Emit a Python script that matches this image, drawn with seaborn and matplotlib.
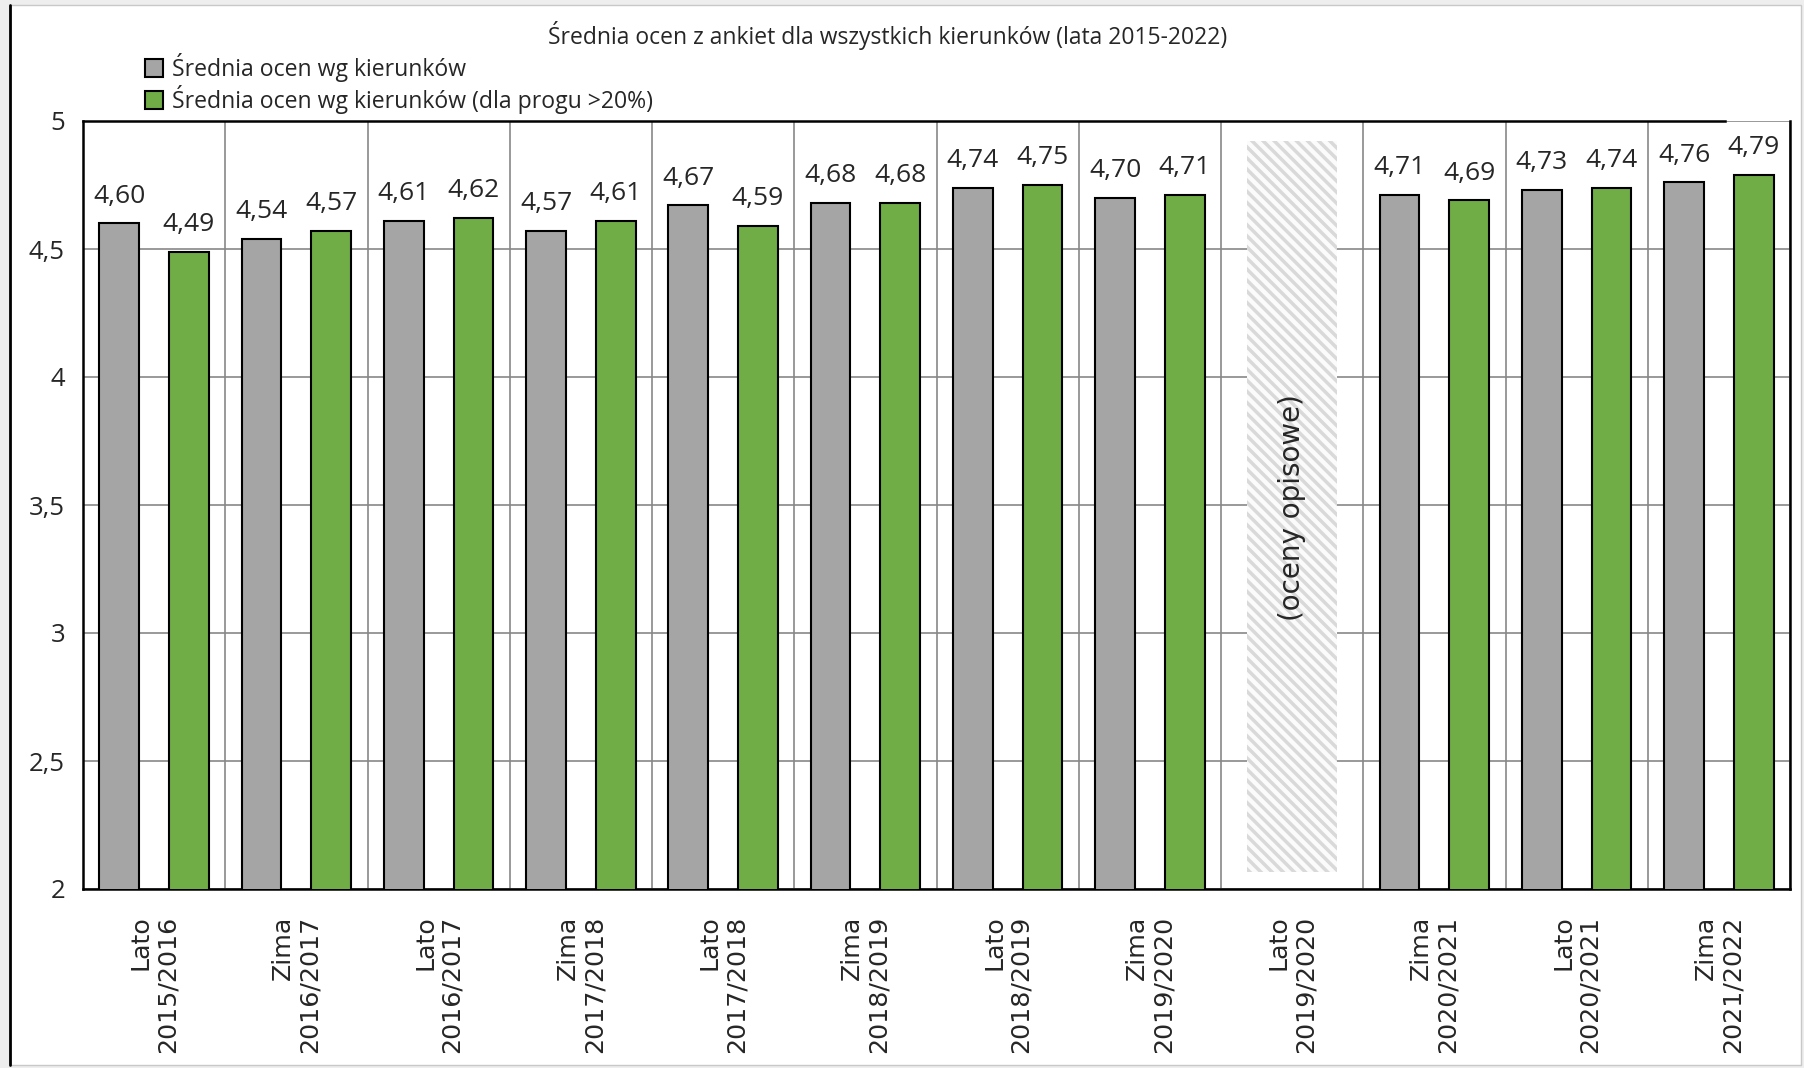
#%%
import numpy as np
import pandas as pd
import matplotlib.pyplot as plt
import seaborn as sns
from matplotlib.patches import Rectangle
from matplotlib.lines import Line2D

#%%
# data
pora = ['Lato', 'Zima', 'Lato', 'Zima', 'Lato', 'Zima', 'Lato', 'Zima', 'Lato', 'Zima', 'Lato', 'Zima']
rok = ['2015/2016', '2016/2017', '2016/2017', '2017/2018', '2017/2018', '2018/2019',
       '2018/2019', '2019/2020', '2019/2020', '2020/2021', '2020/2021', '2021/2022']
srednia = [4.60, 4.54, 4.61, 4.57, 4.67, 4.68, 4.74, 4.70, np.nan, 4.71, 4.73, 4.76]
srednia_prog = [4.49, 4.57, 4.62, 4.61, 4.59, 4.68, 4.75, 4.71, np.nan, 4.69, 4.74, 4.79]
seria = ['Średnia ocen wg kierunków', 'Średnia ocen wg kierunków (dla progu >20%)']
opisowe = 'Lato\n2019/2020'   # semester with descriptive grades only

semestry = [p + '\n' + r for p, r in zip(pora, rok)]

#%%
# long format for seaborn
df = pd.DataFrame({'semestr': semestry * 2,
                   'seria': [seria[0]] * len(semestry) + [seria[1]] * len(semestry),
                   'ocena': srednia + srednia_prog}).dropna()

sns.set_style('white')
plt.rcParams['font.family'] = ['Open Sans', 'DejaVu Sans']
plt.rcParams['hatch.linewidth'] = 2.5

fig = plt.figure(figsize=(18.04, 10.68), dpi=100, facecolor='#eeeeee')
# white card with frame
fig.patches.append(Rectangle((10/1804, 3/1068), 1791/1804, 1060/1068, transform=fig.transFigure,
                             facecolor='white', edgecolor='#c8c8c8', lw=1, zorder=-2))
fig.lines.append(Line2D([10/1804, 10/1804], [3/1068, 1063/1068], transform=fig.transFigure,
                        color='black', lw=2))

ax = fig.add_axes([83/1804, 1-889/1068, (1790-83)/1804, (889-121)/1068])

sns.barplot(data=df, x='semestr', y='ocena', hue='seria', order=semestry, hue_order=seria,
            palette={seria[0]: '#A5A5A5', seria[1]: '#70AD47'}, saturation=1, errorbar=None,
            width=0.98, gap=0.43, edgecolor='black', linewidth=1.5, ax=ax, zorder=3)

#%%
# data labels
for cont in ax.containers:
    for bar in cont:
        h = bar.get_height()
        if np.isfinite(h) and h > 0:
            ax.annotate(f'{h:.2f}'.replace('.', ','), (bar.get_x() + bar.get_width()/2, h),
                        xytext=(0, 15), textcoords='offset points', ha='center', va='baseline',
                        fontsize=19)

# hatched placeholder for descriptive grades
i = semestry.index(opisowe)
ax.add_patch(Rectangle((i - 0.315, 2.067), 0.63, 4.92 - 2.067, facecolor='#fbfbfb',
                       edgecolor='#d9d9d9', hatch='\\\\\\', lw=0, zorder=2))
ax.text(i, 3.49, '(oceny opisowe)', rotation=90, ha='center', va='center',
        fontsize=20, family='DejaVu Sans', zorder=4)

#%%
# axes styling
ax.set_ylim(2, 5)
ax.set_xlim(-0.5, len(semestry) - 0.5)
ax.set_yticks(np.arange(2, 5.01, 0.5))
ax.set_yticklabels([f'{v:g}'.replace('.', ',') for v in np.arange(2, 5.01, 0.5)], fontsize=18.5)
ax.set_xticks(range(len(semestry)))
ax.set_xticklabels(semestry, rotation=90, ha='center', va='top', multialignment='right',
                   fontsize=18.2, family='DejaVu Sans', linespacing=1.15)
ax.set_xticks(np.arange(-0.5, len(semestry)), minor=True)
ax.tick_params(axis='both', which='both', length=0)
ax.tick_params(axis='x', pad=19)
ax.tick_params(axis='y', pad=13)
ax.grid(axis='y', which='major', color='#878787', lw=1.2)
ax.grid(axis='x', which='minor', color='#878787', lw=1.2)
ax.set_axisbelow(True)
for s in ax.spines.values():
    s.set_color('black')
    s.set_linewidth(1.8)
# top border is cut off above the last label, as in the original
ax.spines['top'].set_bounds(-0.5, 11.04)
ax.set_xlabel('')
ax.set_ylabel('')

# legend top left of figure
handles, labels = ax.get_legend_handles_labels()
ax.get_legend().remove()
fig.legend(handles, labels, loc='upper left', bbox_to_anchor=(145/1804, 1-53/1068), frameon=False,
           fontsize=16.6, handlelength=0.8, handleheight=0.8, handletextpad=0.35,
           labelspacing=0.12, borderpad=0, borderaxespad=0)

fig.text(888/1804, 1-35/1068, 'Średnia ocen z ankiet dla wszystkich kierunków (lata 2015-2022)',
         ha='center', va='center', fontsize=16.5)

plt.savefig('out.png', dpi=100, facecolor=fig.get_facecolor())
